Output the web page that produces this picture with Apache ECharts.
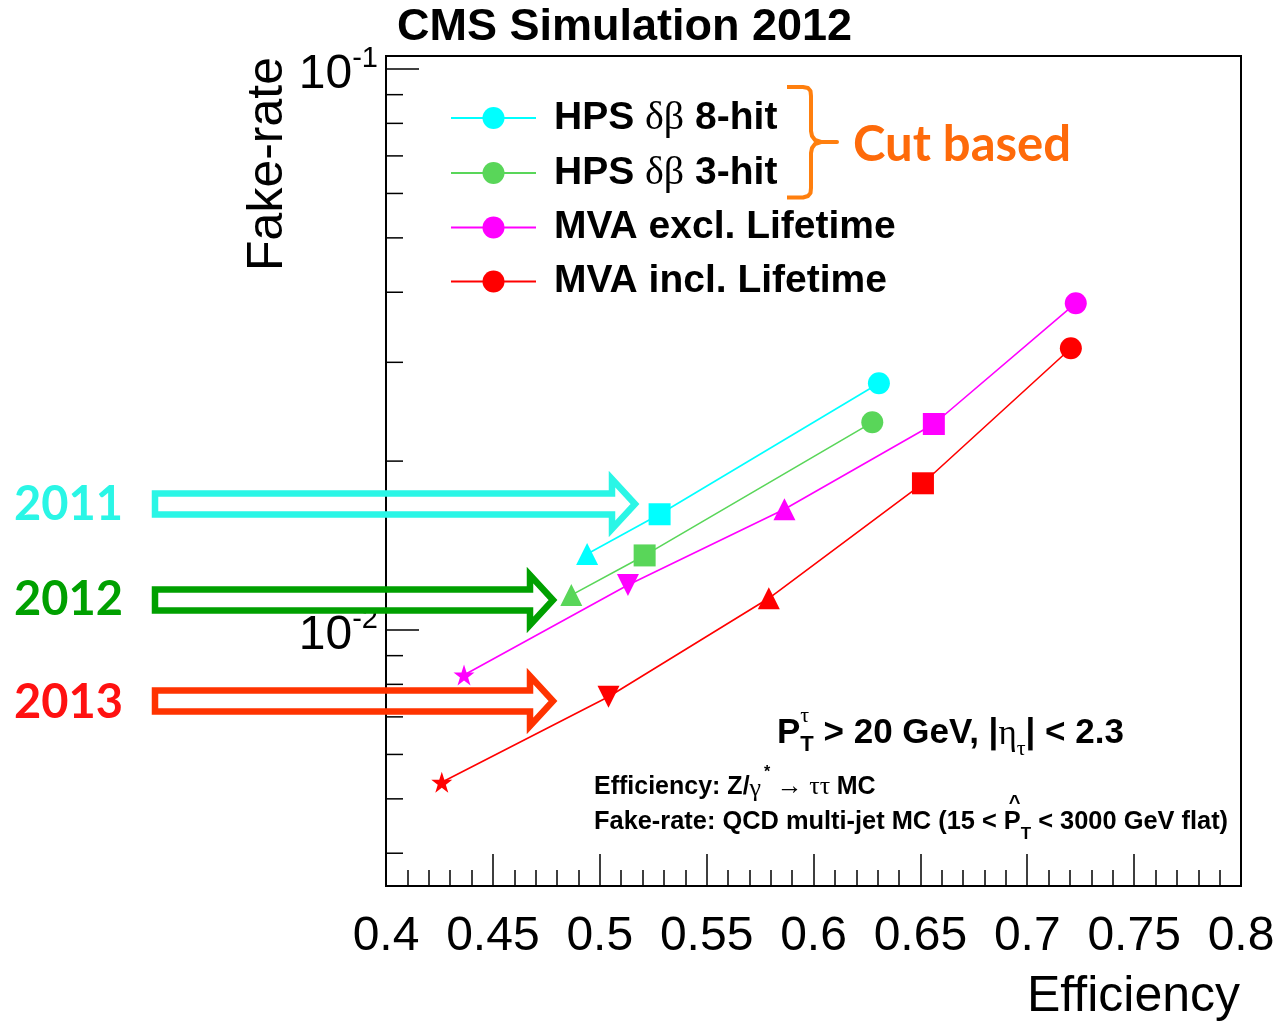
<!DOCTYPE html>
<html>
<head>
<meta charset="utf-8">
<script src="https://cdn.jsdelivr.net/npm/echarts@6/dist/echarts.min.js"></script>
<style>
  html, body { margin: 0; padding: 0; background: #fff; }
  #chart { width: 1276px; height: 1022px; }
</style>
</head>
<body>
<div id="chart"></div>
<script>
// ---- data -------------------------------------------------------------
const seriesNames = ['HPS δβ 8-hit', 'HPS δβ 3-hit', 'MVA excl. Lifetime', 'MVA incl. Lifetime'];

// working points, loosest first: circle, square, triangle up, triangle down, star
const markerShapes = ['circle', 'rect', 'triangle', 'triangleDown', 'star'];

const hps8Eff  = [0.6306, 0.5280, 0.4941];
const hps8Fake = [0.02753, 0.01608, 0.01366];

const hps3Eff  = [0.6275, 0.5210, 0.4867];
const hps3Fake = [0.02345, 0.01358, 0.01154];

const mvaExclEff  = [0.7227, 0.6563, 0.5864, 0.5132, 0.4365];
const mvaExclFake = [0.03824, 0.02329, 0.01641, 0.01203, 0.008314];

const mvaInclEff  = [0.7204, 0.6512, 0.5791, 0.5041, 0.4261];
const mvaInclFake = [0.03178, 0.01826, 0.01139, 0.007603, 0.005353];

const xTickLabels = ['0.4', '0.45', '0.5', '0.55', '0.6', '0.65', '0.7', '0.75', '0.8'];
const yMajorTicks = [0.01, 0.1];
const yMinorTicks = [0.004, 0.005, 0.006, 0.007, 0.008, 0.009,
                     0.02, 0.03, 0.04, 0.05, 0.06, 0.07, 0.08, 0.09];

const yearLabels = ['2011', '2012', '2013'];

// ---- styling ------------------------------------------------------------
const SANS = 'Liberation Sans, Arial, Helvetica, sans-serif';
const SERIF = 'Liberation Serif, Times New Roman, serif';
const CALI = 'Lato, Open Sans, sans-serif';

const X_MIN = 0.4, X_MAX = 0.8;
const Y_MIN = 0.0034964, Y_MAX = 0.10548;

const colors = ['#00ffff', '#59d659', '#ff00ff', '#ff0000'];

const SYMBOLS = {
  circle: 'circle',
  rect: 'rect',
  triangle: 'triangle',
  triangleDown: 'path://M0,0L20,0L10,19Z',
  star: 'path://M50,0L61.8,35.5L99,35.5L69,57.5L80.3,93L50,71L19.7,93L31,57.5L1,35.5L38.2,35.5Z'
};
const SYMBOL_SIZE = { circle: 22, rect: 22, triangle: 22, triangleDown: 22, star: 21 };

function lineSeries(idx, eff, fake) {
  return {
    type: 'line',
    name: seriesNames[idx],
    data: eff.map((x, i) => ({
      value: [x, fake[i]],
      symbol: SYMBOLS[markerShapes[i]],
      symbolSize: SYMBOL_SIZE[markerShapes[i]]
    })),
    symbol: 'circle',
    symbolSize: 22,
    showAllSymbol: true,
    clip: false,
    lineStyle: { color: colors[idx], width: 1.6 },
    itemStyle: { color: colors[idx] },
    emphasis: { disabled: true },
    z: 5 + idx
  };
}

function tickSeries(values, len) {
  return {
    type: 'custom',
    coordinateSystem: 'cartesian2d',
    silent: true,
    clip: false,
    z: 4,
    data: values.map(v => [X_MIN, v]),
    renderItem: (params, api) => {
      const p = api.coord([api.value(0), api.value(1)]);
      return {
        type: 'line',
        shape: { x1: p[0], y1: p[1], x2: p[0] + len, y2: p[1] },
        style: { stroke: '#000', lineWidth: 1.5 }
      };
    }
  };
}

// ---- text layout helper (mixed fonts, sub/superscripts) -------------------
const mctx = document.createElement('canvas').getContext('2d');
function measure(text, font) { mctx.font = font; return mctx.measureText(text).width; }

function textRow(x0, yc, parts, color) {
  const els = [];
  let x = x0, stackW = 0;
  parts.forEach(p => {
    const font = `${p.w || 'normal'} ${p.s}px ${p.f}`;
    const w = measure(p.t, font);
    els.push({
      type: 'text', z: 100, silent: true,
      style: {
        text: p.t, x: x + (p.dx || 0), y: yc + (p.dy || 0), font,
        fill: p.c || color || '#000',
        textAlign: 'left', textVerticalAlign: 'middle',
        align: 'left', verticalAlign: 'middle'
      }
    });
    if (p.stack) stackW = Math.max(stackW, w + (p.dx || 0));
    else { x += Math.max(w + (p.dx || 0), stackW); stackW = 0; }
  });
  return els;
}

function plainText(text, x, y, font, fill, align) {
  return {
    type: 'text', z: 100, silent: true,
    style: {
      text, x, y, font, fill: fill || '#000',
      textAlign: align || 'left', textVerticalAlign: 'middle',
      align: align || 'left', verticalAlign: 'middle'
    }
  };
}

// hollow block arrow, stroke centre-line geometry
function blockArrow(xLeft, xHead, xTip, yc, shaftHalf, headHalf, color) {
  return {
    type: 'polygon', z: 100, silent: true,
    shape: {
      points: [
        [xLeft, yc - shaftHalf], [xHead, yc - shaftHalf], [xHead, yc - headHalf],
        [xTip, yc], [xHead, yc + headHalf], [xHead, yc + shaftHalf], [xLeft, yc + shaftHalf]
      ]
    },
    style: { fill: 'none', stroke: color, lineWidth: 6.5, lineJoin: 'miter', miterLimit: 10 }
  };
}

const fakeRateTitle = plainText('Fake-rate', 0, 0, `normal 50px ${SANS}`, '#000', 'right');
fakeRateTitle.x = 268; fakeRateTitle.y = 57; fakeRateTitle.rotation = Math.PI / 2;

const B = 'bold';
const graphics = [].concat(
  // title
  [plainText('CMS Simulation 2012', 397, 28, `bold 45px ${SANS}`)],
  // axis titles
  [plainText('Efficiency', 1240, 997, `normal 50px ${SANS}`, '#000', 'right')],
  [fakeRateTitle],
  // cut based bracket and label
  [{
    type: 'polyline', z: 100, silent: true,
    shape: {
      points: [
        [787, 87], [803, 87], [808, 88], [810.5, 91], [811, 96], [811, 131], [812, 136], [815, 140],
        [821, 142], [837, 142], [821, 142], [815, 144], [812, 148], [811, 153], [811, 188],
        [810.5, 193], [808, 196], [803, 197.5], [787, 197.5]
      ]
    },
    style: { stroke: '#ff7f0e', lineWidth: 4, fill: 'none', lineJoin: 'round' }
  }],
  [plainText('Cut based', 853, 145, `bold 49px ${CALI}`, '#fe6a0a')],
  // year arrows
  [blockArrow(155, 612, 635, 504, 10.5, 25, '#2af6e6')],
  [blockArrow(155, 530, 553, 600, 10.5, 25, '#00a000')],
  [blockArrow(155, 530, 553, 701, 10.5, 25, '#ff3300')],
  [plainText(yearLabels[0], 14, 505, `bold 47px ${CALI}`, '#2af6e6')],
  [plainText(yearLabels[1], 14, 600, `bold 47px ${CALI}`, '#00a000')],
  [plainText(yearLabels[2], 14, 703, `bold 47px ${CALI}`, '#ff1111')],
  // selection annotations
  textRow(777, 733, [
    { t: 'P', f: SANS, s: 35, w: B },
    { t: 'τ', f: SERIF, s: 22, dy: -17, stack: true },
    { t: 'T', f: SANS, s: 22, w: B, dy: 12 },
    { t: ' > 20 GeV, |', f: SANS, s: 35, w: B },
    { t: 'η', f: SERIF, s: 35, dy: 2 },
    { t: 'τ', f: SERIF, s: 22, dy: 16 },
    { t: '| < 2.3', f: SANS, s: 35, w: B }
  ]),
  textRow(594, 787, [
    { t: 'Efficiency: Z/', f: SANS, s: 25, w: B },
    { t: 'γ', f: SERIF, s: 26, dy: 2 },
    { t: '*', f: SANS, s: 16, w: B, dy: -14, dx: 3 },
    { t: ' → ττ ', f: SERIF, s: 26 },
    { t: 'MC', f: SANS, s: 25, w: B }
  ]),
  textRow(594, 822, [
    { t: 'Fake-rate: QCD multi-jet MC (15 < ', f: SANS, s: 25.4, w: B },
    { t: '^', f: SANS, s: 20, w: B, dy: -19, dx: 5, stack: true },
    { t: 'P', f: SANS, s: 25.4, w: B },
    { t: 'T', f: SANS, s: 17, w: B, dy: 12 },
    { t: ' < 3000 GeV flat)', f: SANS, s: 25.4, w: B }
  ])
);

// ---- chart --------------------------------------------------------------
const chart = echarts.init(document.getElementById('chart'), null, { renderer: 'canvas' });

chart.setOption({
  animation: false,
  backgroundColor: '#fff',
  grid: {
    left: 386, top: 56, width: 855, height: 830,
    show: true, borderColor: '#000', borderWidth: 2, backgroundColor: 'transparent',
    containLabel: false, outerBoundsMode: 'none'
  },
  xAxis: {
    type: 'value', min: X_MIN, max: X_MAX, interval: 0.05,
    axisLine: { show: true, onZero: false, lineStyle: { color: '#000', width: 2 } },
    axisTick: { show: true, inside: true, length: 32, lineStyle: { color: '#000', width: 1.5 } },
    minorTick: { show: true, splitNumber: 5, length: 16, lineStyle: { color: '#000', width: 1.5 } },
    splitLine: { show: false },
    axisLabel: {
      margin: 27, color: '#000', fontFamily: SANS, fontSize: 48,
      formatter: v => xTickLabels[Math.round((v - X_MIN) / 0.05)] || ''
    }
  },
  yAxis: {
    type: 'log', logBase: 10, min: Y_MIN, max: Y_MAX,
    axisLine: { show: true, onZero: false, lineStyle: { color: '#000', width: 2 } },
    axisTick: { show: false },
    splitLine: { show: false },
    axisLabel: {
      margin: 8, color: '#000',
      formatter: v => {
        const e = Math.round(Math.log10(v));
        if (!yMajorTicks.some(t => Math.abs(t - v) / t < 1e-6)) return '';
        return `{b|10}{s|${e < 0 ? '-' : ''}${Math.abs(e)}}`;
      },
      rich: {
        b: { fontFamily: SANS, fontSize: 48, color: '#000', padding: [12, 0, 0, 0], lineHeight: 48 },
        s: { fontFamily: SANS, fontSize: 29, color: '#000', padding: [6, 0, 25, 0], lineHeight: 29 }
      }
    }
  },
  legend: {
    data: seriesNames,
    orient: 'vertical',
    left: 450, top: 98, padding: 0,
    itemWidth: 85, itemHeight: 27.5, itemGap: 15,
    selectedMode: false,
    formatter: name => {
      if (name.indexOf('δβ') >= 0) {
        const parts = name.split('δβ');
        return `{p|}{b|${parts[0]}}{g|δβ}{b|${parts[1]}}`;
      }
      return `{p|}{b|${name}}`;
    },
    textStyle: {
      fontFamily: SANS, fontSize: 39, fontWeight: 'bold', color: '#000',
      rich: {
        p: { width: 13, lineHeight: 40 },
        b: { fontFamily: SANS, fontSize: 39, fontWeight: 'bold', color: '#000', lineHeight: 40 },
        g: { fontFamily: SERIF, fontSize: 40, fontWeight: 'normal', color: '#000', lineHeight: 40 }
      }
    }
  },
  graphic: graphics,
  series: [
    lineSeries(0, hps8Eff, hps8Fake),
    lineSeries(1, hps3Eff, hps3Fake),
    lineSeries(2, mvaExclEff, mvaExclFake),
    lineSeries(3, mvaInclEff, mvaInclFake),
    tickSeries(yMajorTicks, 33),
    tickSeries(yMinorTicks, 17)
  ]
});
</script>
</body>
</html>
